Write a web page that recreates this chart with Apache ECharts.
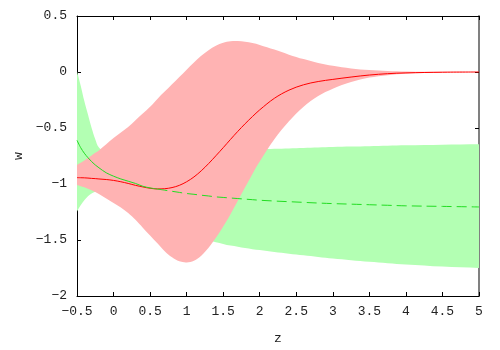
<!DOCTYPE html>
<html style="height: 100%" lang="en">
<head>
    <meta charset="UTF-8">
    <title>w(z)</title>
</head>
<body style="height: 100%; margin: 0">
<div id="main" style="width: 500px; height: 350px;"></div>

<script src="https://cdn.jsdelivr.net/npm/echarts@6/dist/echarts.min.js"></script>
<script type="text/javascript">

    // sample points along z
    var zs = [-0.5, -0.45, -0.4, -0.35, -0.3, -0.25, -0.2, -0.1, 0, 0.1, 0.2, 0.3, 0.4, 0.5, 0.6, 0.7, 0.8, 0.9, 1.0,
        1.1, 1.2, 1.3, 1.4, 1.5, 1.6, 1.7, 1.8, 1.9, 2.0, 2.2, 2.4, 2.6, 2.8, 3.0, 3.25, 3.5, 3.75, 4.0, 4.5, 5.0];

    // red model: mean and band
    var redMean = [-0.943, -0.944, -0.945, -0.947, -0.95, -0.952, -0.955, -0.96, -0.968, -0.98, -0.995, -1.012, -1.026,
        -1.038, -1.044, -1.042, -1.032, -1.012, -0.98, -0.937, -0.882, -0.818, -0.748, -0.676, -0.602, -0.53, -0.462,
        -0.398, -0.338, -0.235, -0.162, -0.114, -0.085, -0.066, -0.045, -0.027, -0.015, -0.008, -0.002, 0];
    var redUpper = [-0.83, -0.81, -0.79, -0.768, -0.745, -0.722, -0.70, -0.645, -0.59, -0.54, -0.49, -0.43, -0.37,
        -0.31, -0.24, -0.175, -0.11, -0.045, 0.02, 0.085, 0.145, 0.195, 0.235, 0.262, 0.275, 0.277, 0.27, 0.258,
        0.242, 0.20, 0.155, 0.115, 0.08, 0.055, 0.032, 0.018, 0.01, 0.005, 0.002, 0];
    var redLower = [-1.01, -1.02, -1.03, -1.042, -1.055, -1.072, -1.09, -1.13, -1.17, -1.21, -1.26, -1.32, -1.39,
        -1.46, -1.53, -1.60, -1.655, -1.69, -1.70, -1.685, -1.64, -1.57, -1.48, -1.38, -1.27, -1.15, -1.03, -0.91,
        -0.80, -0.60, -0.44, -0.31, -0.215, -0.15, -0.09, -0.05, -0.028, -0.015, -0.004, 0];

    // green model: mean and band
    var greenMean = [-0.61, -0.675, -0.725, -0.765, -0.80, -0.83, -0.855, -0.90, -0.93, -0.955, -0.975, -0.995, -1.02,
        -1.035, -1.045, -1.055, -1.065, -1.075, -1.085, -1.092, -1.10, -1.107, -1.115, -1.12, -1.125, -1.13, -1.135,
        -1.14, -1.145, -1.152, -1.158, -1.164, -1.17, -1.175, -1.18, -1.185, -1.19, -1.195, -1.20, -1.205];
    var greenUpper = [0.005, -0.12, -0.26, -0.38, -0.50, -0.60, -0.675, -0.73, -0.76, -0.775, -0.78, -0.78, -0.78,
        -0.775, -0.77, -0.76, -0.75, -0.74, -0.73, -0.725, -0.72, -0.715, -0.71, -0.707, -0.703, -0.70, -0.697,
        -0.694, -0.691, -0.686, -0.682, -0.678, -0.674, -0.67, -0.666, -0.662, -0.658, -0.655, -0.65, -0.646];
    var greenLower = [-1.245, -1.19, -1.145, -1.11, -1.085, -1.07, -1.07, -1.07, -1.08, -1.10, -1.13, -1.17, -1.23,
        -1.30, -1.33, -1.36, -1.39, -1.415, -1.44, -1.46, -1.48, -1.50, -1.52, -1.535, -1.55, -1.56, -1.572, -1.582,
        -1.59, -1.607, -1.622, -1.637, -1.652, -1.666, -1.68, -1.695, -1.707, -1.718, -1.737, -1.75];

    // green line is drawn solid up to this index, dashed after
    var greenSolidEnd = 14;

    function pairs(ys) {
        return zs.map(function (z, i) { return [z, ys[i]]; });
    }

    // filled band between two curves: one smoothed polygon through the axis coords.
    // corner points are doubled so the smoothing keeps the band ends square
    function band(up, lo, color) {
        return {
            type: 'custom',
            clip: true,
            silent: true,
            data: zs.map(function (z, i) { return [z, lo[i], up[i]]; }),
            encode: {x: 0, y: [1, 2]},
            renderItem: function (params, api) {
                if (params.dataIndex !== 0) return;
                var n = zs.length;
                var pts = [api.coord([zs[0], up[0]])];
                for (var i = 0; i < n; i++) pts.push(api.coord([zs[i], up[i]]));
                pts.push(api.coord([zs[n - 1], up[n - 1]]));
                pts.push(api.coord([zs[n - 1], lo[n - 1]]));
                for (var j = n - 1; j >= 0; j--) pts.push(api.coord([zs[j], lo[j]]));
                pts.push(api.coord([zs[0], lo[0]]));
                return {
                    type: 'polygon',
                    shape: {points: pts, smooth: 0.35},
                    style: {fill: color}
                };
            }
        };
    }

    var font = 'Liberation Mono';
    var minus = function (v) { return String(v).replace('-', '\u2212'); };

    var myChart = echarts.init(document.getElementById('main'));
    var option = {
        animation: false,
        backgroundColor: '#fff',
        grid: {left: 77, right: 21, top: 16, bottom: 45},
        xAxis: [{
            type: 'value', min: -0.5, max: 5, interval: 0.5,
            name: 'z', nameLocation: 'middle', nameGap: 36,
            nameTextStyle: {fontFamily: font, fontSize: 13, color: '#222'},
            axisLine: {onZero: false, lineStyle: {color: '#000', width: 1}},
            axisTick: {inside: true, length: 4, lineStyle: {color: '#000'}},
            axisLabel: {fontFamily: font, fontSize: 13, color: '#222', margin: 9, formatter: minus},
            splitLine: {show: false}
        }, {
            type: 'value', min: -0.5, max: 5, interval: 0.5, position: 'top',
            axisLine: {onZero: false, lineStyle: {color: '#000', width: 1}},
            axisTick: {inside: true, length: 4, lineStyle: {color: '#000'}},
            axisLabel: {show: false},
            splitLine: {show: false}
        }],
        yAxis: [{
            type: 'value', min: -2, max: 0.5, interval: 0.5,
            name: 'w', nameLocation: 'middle', nameGap: 51, nameRotate: 90,
            nameTextStyle: {fontFamily: font, fontSize: 13, color: '#222'},
            axisLine: {show: true, onZero: false, lineStyle: {color: '#000', width: 1}},
            axisTick: {show: true, inside: true, length: 4, lineStyle: {color: '#000'}},
            axisLabel: {fontFamily: font, fontSize: 13, color: '#222', margin: 10, formatter: minus},
            splitLine: {show: false}
        }, {
            type: 'value', min: -2, max: 0.5, interval: 0.5, position: 'right',
            axisLine: {show: true, onZero: false, lineStyle: {color: '#808080', width: 2}},
            axisTick: {show: true, inside: true, length: 4, lineStyle: {color: '#000'}},
            axisLabel: {show: false},
            splitLine: {show: false}
        }],
        series: [
            band(greenUpper, greenLower, '#b3ffb3'),
            band(redUpper, redLower, '#ffb3b3'),
            {
                type: 'line', data: pairs(redMean), symbol: 'none', smooth: 0.35,
                lineStyle: {color: '#ff0000', width: 1}
            },
            {
                type: 'line', data: pairs(greenMean).slice(0, greenSolidEnd + 1), symbol: 'none', smooth: 0.35,
                lineStyle: {color: '#22dd22', width: 1}
            },
            {
                type: 'line', data: pairs(greenMean).slice(greenSolidEnd), symbol: 'none', smooth: 0.35,
                lineStyle: {color: '#22dd22', width: 1, type: [10, 5]}
            }
        ]
    };
    myChart.setOption(option);

</script>
</body>
</html>
